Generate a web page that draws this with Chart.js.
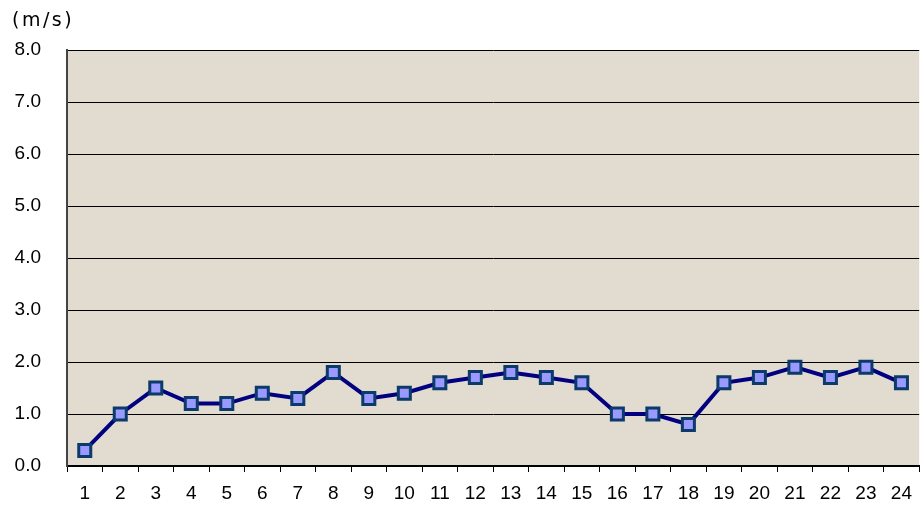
<!DOCTYPE html>
<html>
<head>
<meta charset="utf-8">
<script src="https://cdn.jsdelivr.net/npm/chart.js@4"></script>
<style>
  html, body { margin: 0; padding: 0; background: #fff; }
  #wrap { position: relative; width: 922px; height: 507px; }
</style>
</head>
<body>
<div id="wrap"><canvas id="charts" width="922" height="507"></canvas></div>
<script>
const hours = ['1','2','3','4','5','6','7','8','9','10','11','12','13','14','15','16','17','18','19','20','21','22','23','24'];
const windSpeed = [0.3, 1.0, 1.5, 1.2, 1.2, 1.4, 1.3, 1.8, 1.3, 1.4, 1.6, 1.7, 1.8, 1.7, 1.6, 1.0, 1.0, 0.8, 1.6, 1.7, 1.9, 1.7, 1.9, 1.6];
const unitLabel = '(m/s)';

Chart.defaults.font.family = "Arial, 'Liberation Sans', sans-serif";
Chart.defaults.color = '#000';

// beige plot background + unit label in the corner
const plotBg = {
  id: 'plotBg',
  beforeDraw(chart) {
    const { ctx, chartArea } = chart;
    ctx.save();
    ctx.fillStyle = '#e2dbcf';
    ctx.fillRect(chartArea.left, chartArea.top, chartArea.right - chartArea.left, chartArea.bottom - chartArea.top);
    ctx.restore();
  },
  afterDraw(chart) {
    const ctx = chart.ctx;
    ctx.save();
    ctx.font = "19px 'DejaVu Sans', sans-serif";
    ctx.letterSpacing = '2.5px';
    ctx.fillStyle = '#000';
    ctx.textBaseline = 'middle';
    ctx.fillText(unitLabel, 12, 21);
    ctx.restore();
  }
};

new Chart(document.getElementById('charts'), {
  type: 'line',
  data: {
    labels: hours,
    datasets: [{
      data: windSpeed,
      borderColor: '#000080',
      borderWidth: 4,
      pointStyle: 'rect',
      pointRadius: 8.5,
      pointBackgroundColor: '#9999ff',
      pointBorderColor: '#0b3a6b',
      pointBorderWidth: 3,
      tension: 0
    }]
  },
  options: {
    responsive: false,
    animation: false,
    layout: { autoPadding: false, padding: { top: 50, right: -1, bottom: 0, left: 0 } },
    plugins: { legend: { display: false }, tooltip: { enabled: false } },
    scales: {
      x: {
        offset: true,
        grid: { offset: true, drawOnChartArea: false, drawTicks: true, tickLength: 6, tickColor: '#000', lineWidth: 1 },
        border: { color: '#000', width: 2 },
        ticks: { font: { size: 19 }, padding: 10, maxRotation: 0, autoSkip: false },
        afterFit(scale) { scale.height = 41; }
      },
      y: {
        min: 0,
        max: 8,
        grid: { color: '#000', lineWidth: 1, drawTicks: false },
        border: { color: '#444', width: 2 },
        ticks: { stepSize: 1, font: { size: 19 }, padding: 26, callback: (v) => v.toFixed(1) },
        afterFit(scale) { scale.width = 67; }
      }
    }
  },
  plugins: [plotBg]
});
</script>
</body>
</html>
